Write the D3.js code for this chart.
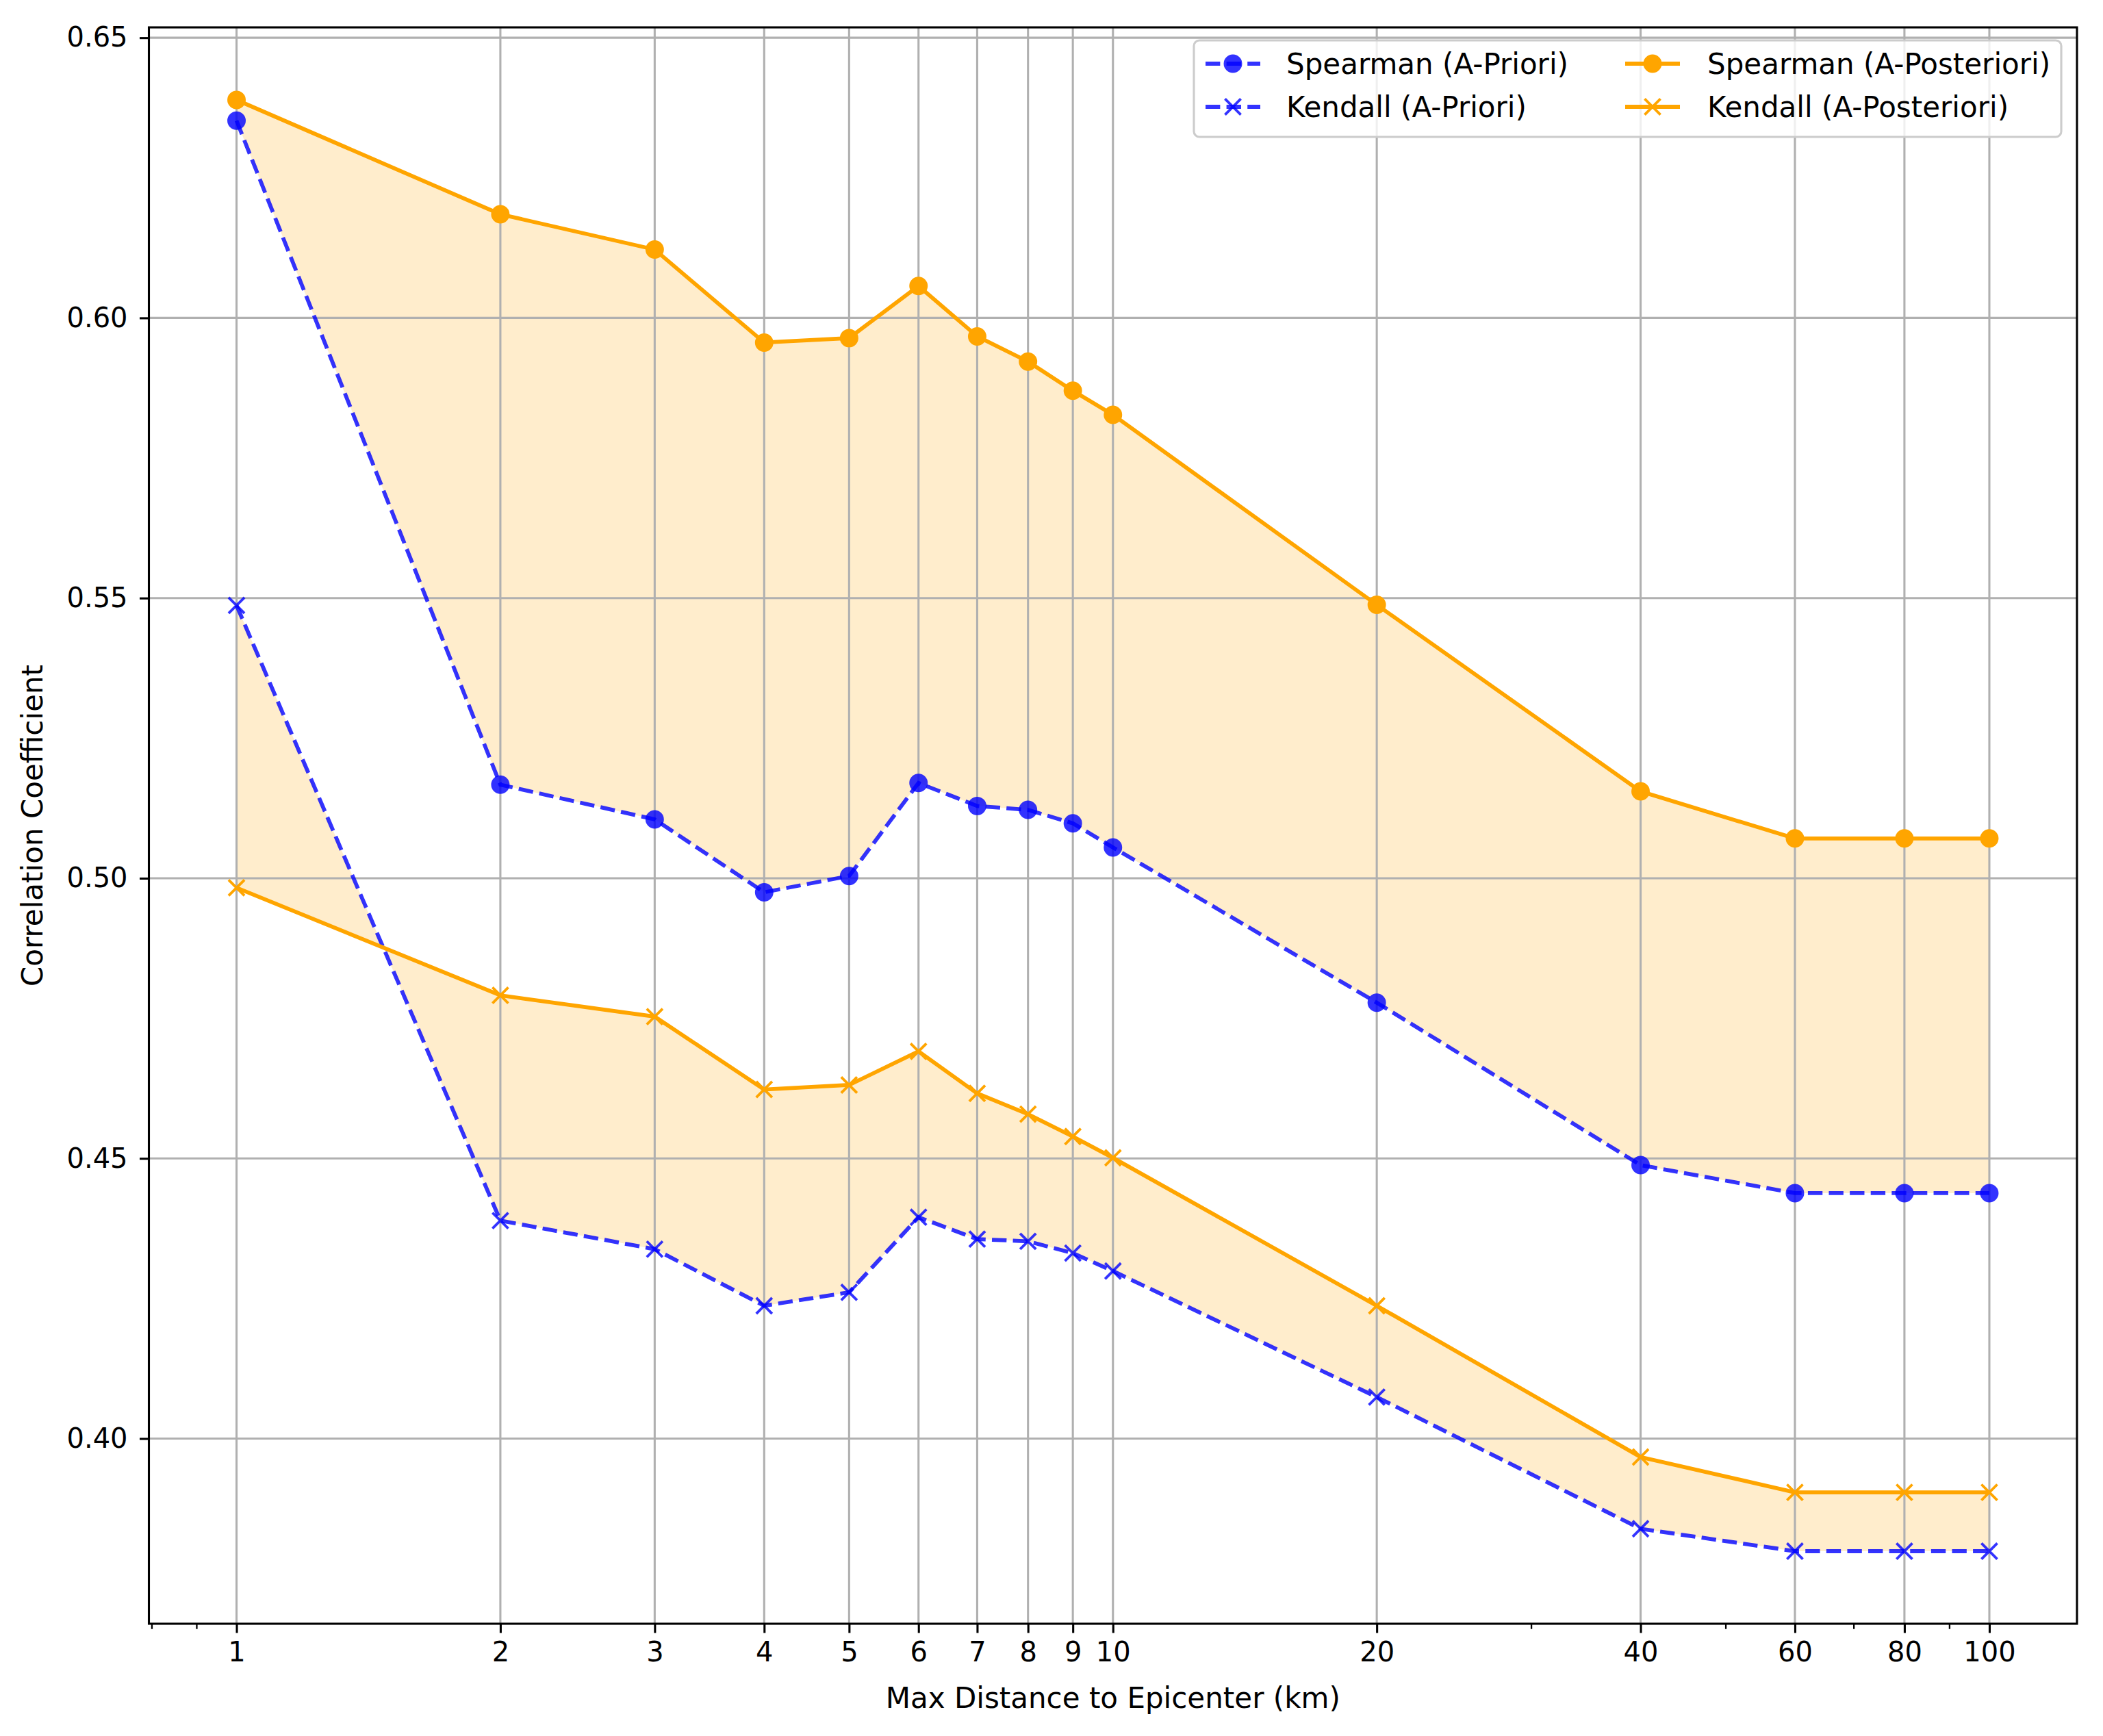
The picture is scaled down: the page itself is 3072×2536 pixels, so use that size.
<!DOCTYPE html>
<html>
<head>
<meta charset="utf-8">
<script src="https://cdn.jsdelivr.net/npm/d3@7"></script>
<style>
  html, body { margin: 0; padding: 0; background: #ffffff; }
  svg { display: block; }
  text { font-family: "DejaVu Sans", sans-serif; }
</style>
</head>
<body>
<svg id="chart" width="3072" height="2536"></svg>
<script>
// ---- data ----
const distances = [1, 2, 3, 4, 5, 6, 7, 8, 9, 10, 20, 40, 60, 80, 100];
const spearmanPriori = [0.6352, 0.5167, 0.5105, 0.4975, 0.5004, 0.5170, 0.5129, 0.5122, 0.5098, 0.5055, 0.4778, 0.4488, 0.4438, 0.4438, 0.4438];
const spearmanPosteriori = [0.6389, 0.6185, 0.6122, 0.5956, 0.5964, 0.6057, 0.5967, 0.5922, 0.5870, 0.5827, 0.5488, 0.5155, 0.5071, 0.5071, 0.5071];
const kendallPriori = [0.5487, 0.4389, 0.4338, 0.4237, 0.4261, 0.4395, 0.4356, 0.4352, 0.4331, 0.4299, 0.4074, 0.3839, 0.3799, 0.3799, 0.3799];
const kendallPosteriori = [0.4983, 0.4791, 0.4753, 0.4623, 0.4631, 0.4691, 0.4616, 0.4579, 0.4539, 0.4501, 0.4237, 0.3967, 0.3904, 0.3904, 0.3904];
const yTickValues = [0.40, 0.45, 0.50, 0.55, 0.60, 0.65];
const xMinorTicks = [0.8, 0.9, 30, 50, 70, 90];
const seriesNames = ["Spearman (A-Priori)", "Kendall (A-Priori)", "Spearman (A-Posteriori)", "Kendall (A-Posteriori)"];
const xLabel = "Max Distance to Epicenter (km)";
const yLabel = "Correlation Coefficient";

// ---- layout ----
const W = 3072, H = 2536;
const M = { left: 217.5, right: 3034, top: 40, bottom: 2372 };
const pt = 3.85; // px per point
const TICKFONT = 40;
const FONT = 42;
const BLUE = "#0000ff", ORANGE = "#ffa500";

const svg = d3.select("#chart");

// scales with matplotlib-like 5% margins
const lx = d3.extent(distances).map(Math.log10);
const lpad = (lx[1] - lx[0]) * 0.05;
const x = d3.scaleLog().domain([Math.pow(10, lx[0] - lpad), Math.pow(10, lx[1] + lpad)]).range([M.left, M.right]);
const allY = spearmanPriori.concat(spearmanPosteriori, kendallPriori, kendallPosteriori);
const ye = d3.extent(allY);
const ypad = (ye[1] - ye[0]) * 0.05;
const y = d3.scaleLinear().domain([ye[0] - ypad, ye[1] + ypad]).range([M.bottom, M.top]);

// clip
svg.append("defs").append("clipPath").attr("id", "plotclip")
  .append("rect").attr("x", M.left).attr("y", M.top)
  .attr("width", M.right - M.left).attr("height", M.bottom - M.top);

const plot = svg.append("g").attr("clip-path", "url(#plotclip)");

// fills
const area = (lo, hi) => d3.area()
  .x((d, i) => x(distances[i]))
  .y0((d, i) => y(lo[i]))
  .y1((d, i) => y(hi[i]));
plot.append("path").datum(distances)
  .attr("d", area(spearmanPriori, spearmanPosteriori))
  .attr("fill", ORANGE).attr("fill-opacity", 0.2);
plot.append("path").datum(distances)
  .attr("d", area(kendallPriori, kendallPosteriori))
  .attr("fill", ORANGE).attr("fill-opacity", 0.2);

// grid
const grid = plot.append("g");
grid.selectAll("line.gx").data(distances).enter().append("line")
  .attr("x1", d => x(d)).attr("x2", d => x(d))
  .attr("y1", M.top).attr("y2", M.bottom)
  .attr("stroke", "#b0b0b0").attr("stroke-width", 0.8 * pt);
grid.selectAll("line.gy").data(yTickValues).enter().append("line")
  .attr("y1", d => y(d)).attr("y2", d => y(d))
  .attr("x1", M.left).attr("x2", M.right)
  .attr("stroke", "#b0b0b0").attr("stroke-width", 0.8 * pt);

// lines + markers
const series = [
  { vals: spearmanPriori, color: BLUE, dashed: true, marker: "o", opacity: 0.8 },
  { vals: kendallPriori, color: BLUE, dashed: true, marker: "x", opacity: 0.8 },
  { vals: spearmanPosteriori, color: ORANGE, dashed: false, marker: "o", opacity: 1 },
  { vals: kendallPosteriori, color: ORANGE, dashed: false, marker: "x", opacity: 1 }
];
const line = vals => d3.line().x((d, i) => x(distances[i])).y((d, i) => y(vals[i]));
const dash = `${3.7 * 1.5 * pt},${1.6 * 1.5 * pt}`;

function drawMarker(g, cx, cy, s) {
  const r = 3 * pt;
  if (s.marker === "o") {
    g.append("circle").attr("cx", cx).attr("cy", cy).attr("r", r)
      .attr("fill", s.color).attr("stroke", s.color).attr("stroke-width", 1 * pt)
      .attr("opacity", s.opacity);
  } else {
    g.append("path")
      .attr("d", `M${cx - r},${cy - r}L${cx + r},${cy + r}M${cx - r},${cy + r}L${cx + r},${cy - r}`)
      .attr("stroke", s.color).attr("stroke-width", 1 * pt).attr("fill", "none")
      .attr("opacity", s.opacity);
  }
}

series.forEach(s => {
  const g = plot.append("g");
  g.append("path").datum(distances)
    .attr("d", line(s.vals))
    .attr("fill", "none").attr("stroke", s.color)
    .attr("stroke-width", 1.5 * pt)
    .attr("stroke-dasharray", s.dashed ? dash : null)
    .attr("stroke-opacity", s.opacity);
  distances.forEach((d, i) => drawMarker(g, x(d), y(s.vals[i]), s));
});

// axes
const xAxis = d3.axisBottom(x).tickValues(distances).tickFormat(d3.format("d"))
  .tickSize(3.5 * pt).tickPadding(3.5 * pt);
const gx = svg.append("g").attr("transform", `translate(0,${M.bottom})`).call(xAxis);
gx.select(".domain").remove();
gx.selectAll(".tick line").attr("stroke", "#000").attr("stroke-width", 0.8 * pt);
gx.selectAll(".tick text").attr("font-size", TICKFONT).attr("fill", "#000").attr("dy", "0.71em");

const xMinor = d3.axisBottom(x).tickValues(xMinorTicks).tickFormat("").tickSize(2 * pt);
const gxm = svg.append("g").attr("transform", `translate(0,${M.bottom})`).call(xMinor);
gxm.select(".domain").remove();
gxm.selectAll(".tick line").attr("stroke", "#000").attr("stroke-width", 0.6 * pt);

const yAxis = d3.axisLeft(y).tickValues(yTickValues).tickFormat(d3.format(".2f"))
  .tickSize(3.5 * pt).tickPadding(3.5 * pt + 4);
const gy = svg.append("g").attr("transform", `translate(${M.left},0)`).call(yAxis);
gy.select(".domain").remove();
gy.selectAll(".tick line").attr("stroke", "#000").attr("stroke-width", 0.8 * pt);
gy.selectAll(".tick text").attr("font-size", TICKFONT).attr("fill", "#000");

// spines
svg.append("rect").attr("x", M.left).attr("y", M.top)
  .attr("width", M.right - M.left).attr("height", M.bottom - M.top)
  .attr("fill", "none").attr("stroke", "#000").attr("stroke-width", 0.8 * pt);

// axis labels
svg.append("text").attr("x", (M.left + M.right) / 2).attr("y", 2495)
  .attr("text-anchor", "middle").attr("font-size", FONT).attr("fill", "#000").text(xLabel);
svg.append("text")
  .attr("transform", `translate(62,${(M.top + M.bottom) / 2}) rotate(-90)`)
  .attr("text-anchor", "middle").attr("font-size", FONT).attr("fill", "#000").text(yLabel);

// legend
const lg = svg.append("g");
lg.append("rect").attr("x", 1744).attr("y", 59).attr("width", 1267).attr("height", 141)
  .attr("rx", 8).attr("fill", "#fff").attr("fill-opacity", 0.8)
  .attr("stroke", "#cccccc").attr("stroke-width", 0.8 * pt);
const legendPos = [
  { hx: 1761, tx: 1879, cy: 93 },
  { hx: 1761, tx: 1879, cy: 156 },
  { hx: 2374, tx: 2494, cy: 93 },
  { hx: 2374, tx: 2494, cy: 156 }
];
series.forEach((s, i) => {
  const p = legendPos[i];
  const hl = 2 * 40;
  lg.append("line").attr("x1", p.hx).attr("x2", p.hx + hl)
    .attr("y1", p.cy).attr("y2", p.cy)
    .attr("stroke", s.color).attr("stroke-width", 1.5 * pt)
    .attr("stroke-dasharray", s.dashed ? dash : null)
    .attr("stroke-opacity", s.opacity);
  drawMarker(lg, p.hx + hl / 2, p.cy, s);
  lg.append("text").attr("x", p.tx).attr("y", p.cy).attr("dy", "0.35em")
    .attr("font-size", FONT).attr("fill", "#000").text(seriesNames[i]);
});
</script>
</body>
</html>
